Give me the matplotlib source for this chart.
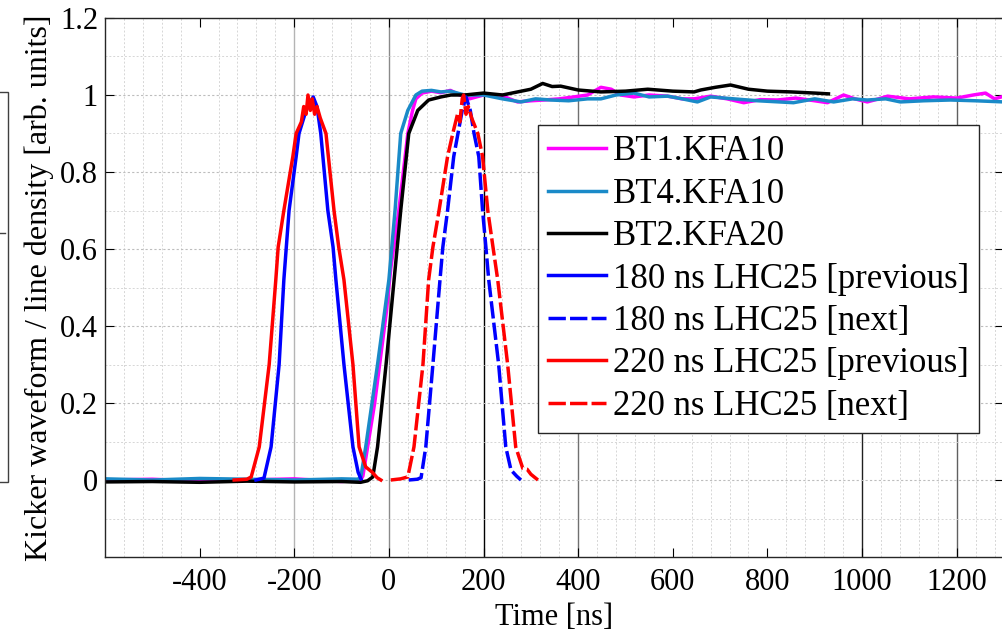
import matplotlib
matplotlib.use('Agg')
import matplotlib.pyplot as plt
from matplotlib.ticker import MultipleLocator, FuncFormatter, FixedLocator
from matplotlib.patches import Rectangle
from matplotlib.lines import Line2D

plt.rcParams['font.family'] = ['Liberation Serif', 'DejaVu Serif']
plt.rcParams['axes.unicode_minus'] = False

# ---------------- data ----------------
t_bt1 = [-600, -500, -400, -300, -200, -100, -60, -55, -45, -30, -6, 4, 21, 40, 50, 57, 70, 90, 110, 130,
         150, 170, 200, 237, 255, 272, 300, 327, 360, 391, 420, 448, 470, 490, 518, 550, 589, 620, 645, 680,
         715, 750, 785, 821, 860, 900, 927, 961, 985, 1011, 1035, 1054, 1100, 1151, 1200, 1235, 1261, 1280, 1300]
v_bt1 = [0.0, 0.002, -0.003, 0.0, 0.003, -0.004, 0.0, 0.01, 0.086, 0.2, 0.43, 0.55, 0.70, 0.90, 0.96, 0.99,
         1.005, 1.01, 1.006, 1.012, 1.0, 0.99, 1.0, 1.0, 0.99, 0.982, 0.985, 0.987, 0.99, 0.995, 1.0, 1.02,
         1.015, 1.0, 0.995, 1.0, 0.997, 0.99, 0.99, 0.997, 0.99, 0.98, 0.988, 0.987, 0.992, 0.985, 0.98, 1.0,
         0.99, 0.982, 0.99, 0.997, 0.99, 0.995, 0.992, 1.0, 1.005, 0.99, 0.997]

t_bt4 = [-600, -500, -400, -300, -200, -100, -65, -59, -49, -24, 0, 13, 25, 40, 57, 70, 90, 110, 130, 160,
         200, 240, 279, 310, 342, 380, 420, 448, 480, 518, 550, 589, 620, 652, 680, 729, 780, 855, 900, 940,
         980, 1011, 1050, 1081, 1130, 1187, 1240, 1300]
v_bt4 = [0.003, 0.0, 0.004, 0.002, 0.0, 0.003, 0.002, 0.01, 0.086, 0.30, 0.52, 0.70, 0.90, 0.96, 1.0, 1.01,
         1.012, 1.008, 1.01, 1.0, 1.0, 0.99, 0.982, 0.99, 0.987, 0.985, 0.99, 0.99, 1.0, 1.005, 0.995, 0.997,
         0.99, 0.982, 0.995, 0.99, 0.985, 0.98, 0.99, 0.982, 0.99, 0.987, 0.99, 0.982, 0.985, 0.987, 0.985, 0.982]

t_bt2 = [-600, -500, -400, -300, -200, -100, -60, -45, -34, -24, -6, 11, 25, 42, 61, 84, 110, 131, 160, 200,
         240, 280, 300, 325, 345, 363, 400, 448, 500, 547, 600, 645, 659, 690, 722, 760, 800, 850, 900, 929]
v_bt2 = [-0.005, -0.004, -0.006, -0.003, -0.005, -0.004, -0.006, -0.002, 0.008, 0.086, 0.30, 0.52, 0.70, 0.90,
         0.96, 0.987, 0.995, 1.0, 1.0, 1.005, 1.0, 1.01, 1.015, 1.03, 1.022, 1.023, 1.013, 1.008, 1.01, 1.015,
         1.01, 1.008, 1.013, 1.02, 1.026, 1.015, 1.01, 1.008, 1.005, 1.003]

t_180p = [-281, -264, -249, -232, -222, -211, -196, -190, -175, -160, -152, -144, -129, -118, -112, -95, -76, -65, -59]
v_180p = [0.0, 0.005, 0.086, 0.30, 0.52, 0.70, 0.84, 0.90, 0.96, 0.995, 0.97, 0.90, 0.70, 0.605, 0.52, 0.30, 0.086, 0.02, 0.003]

t_180n = [42, 60, 68, 78, 93, 108, 114, 124, 137, 146, 155, 163, 172, 180, 190, 198, 205, 211, 232, 247, 258, 270, 279]
v_180n = [0.0, 0.002, 0.006, 0.086, 0.30, 0.52, 0.605, 0.70, 0.84, 0.90, 0.96, 0.995, 0.96, 0.90, 0.84, 0.70,
          0.605, 0.52, 0.30, 0.086, 0.026, 0.01, 0.0]

t_220p = [-327, -300, -291, -274, -253, -239, -234, -222, -203, -196, -185, -180, -175, -171, -166, -162, -157,
          -152, -145, -133, -116, -106, -95, -76, -63, -49, -35, -25, -17]
v_220p = [0.0, 0.002, 0.008, 0.086, 0.30, 0.52, 0.605, 0.70, 0.84, 0.90, 0.93, 0.97, 0.95, 1.0, 0.96, 0.99, 0.95,
          0.97, 0.94, 0.90, 0.70, 0.605, 0.52, 0.30, 0.086, 0.034, 0.02, 0.006, 0.0]

t_220n = [4, 25, 40, 53, 72, 84, 93, 106, 124, 135, 145, 150, 155, 158, 163, 168, 175, 188, 198, 209, 220, 230,
          251, 268, 283, 292, 300, 315]
v_220n = [0.0, 0.003, 0.008, 0.086, 0.30, 0.52, 0.605, 0.70, 0.84, 0.90, 0.95, 0.93, 0.99, 1.0, 0.95, 0.97, 0.94,
          0.90, 0.84, 0.70, 0.605, 0.52, 0.30, 0.086, 0.03, 0.028, 0.015, 0.0]

labels = ['BT1.KFA10', 'BT4.KFA10', 'BT2.KFA20', '180 ns LHC25 [previous]', '180 ns LHC25 [next]',
          '220 ns LHC25 [previous]', '220 ns LHC25 [next]']

x_ticks = [-400, -200, 0, 200, 400, 600, 800, 1000, 1200]
y_ticks = [0, 0.2, 0.4, 0.6, 0.8, 1.0, 1.2]

# ---------------- figure ----------------
W, H = 1002, 634
fig = plt.figure(figsize=(W / 100, H / 100), dpi=100)
ax = fig.add_axes([105 / W, 77 / H, 899 / W, 539 / H])
ax.set_xlim(-600, 1300)
ax.set_ylim(-0.2, 1.2)

ax.xaxis.set_major_locator(FixedLocator(x_ticks))
ax.yaxis.set_major_locator(FixedLocator(y_ticks))
ax.xaxis.set_minor_locator(MultipleLocator(40))
ax.yaxis.set_minor_locator(MultipleLocator(0.1))
ax.yaxis.set_major_formatter(FuncFormatter(lambda v, p: '%g' % v))
ax.xaxis.set_major_formatter(FuncFormatter(lambda v, p: '%g' % v))

ax.grid(which='minor', linestyle=(0, (2, 2)), color='#d6d6d6', linewidth=0.7)
ax.grid(which='major', axis='y', linestyle=(0, (2, 2)), color='#bdbdbd', linewidth=0.8)
ax.set_axisbelow(True)
# darker major vertical grid lines as rendered in the original
for xv, c in [(-200, '#b4b4b4'), (0, '#8a8a8a'), (200, '#000000'), (400, '#707070'),
              (1000, '#202020'), (1200, '#606060')]:
    ax.axvline(xv, color=c, linewidth=1.0, zorder=0.5)

ax.tick_params(which='major', direction='in', length=6.5, width=0.8, top=True, right=True,
               labelsize=22, colors='#000000')
ax.tick_params(which='minor', length=0)
ax.tick_params(axis='x', pad=8)
ax.tick_params(axis='y', pad=5)
for s in ax.spines.values():
    s.set_color('#262626')
    s.set_linewidth(1.0)

lw = 2.5
ax.plot(t_bt1, v_bt1, color='#ff00ff', lw=lw, label=labels[0])
ax.plot(t_bt4, v_bt4, color='#1a8ac8', lw=lw, label=labels[1])
ax.plot(t_bt2, v_bt2, color='#000000', lw=lw, label=labels[2])
ax.plot(t_180p, v_180p, color='#0000ff', lw=lw, label=labels[3])
ax.plot(t_180n, v_180n, color='#0000ff', lw=lw, dashes=(5, 1.2), label=labels[4])
ax.plot(t_220p, v_220p, color='#ff0000', lw=lw, label=labels[5])
ax.plot(t_220n, v_220n, color='#ff0000', lw=lw, dashes=(5, 1.2), label=labels[6])

ax.set_xlabel('Time [ns]', fontsize=22, labelpad=4)
ax.set_ylabel('Kicker waveform / line density [arb. units]', fontsize=23, labelpad=4)

leg = ax.legend(loc='upper left', bbox_to_anchor=(538 / W, 1 - 125 / H), bbox_transform=fig.transFigure,
                fontsize=25, frameon=True, fancybox=False, shadow=False, framealpha=1,
                edgecolor='#262626', handlelength=1.65, handletextpad=0.2, labelspacing=0.27,
                borderpad=0.3, borderaxespad=0)
leg.get_frame().set_linewidth(1.0)

# remnant of neighbouring panel at the left edge
fig.add_artist(Rectangle((-20 / W, 1 - 482 / H), 28 / W, 390 / H, transform=fig.transFigure,
                         fill=False, edgecolor='#404040', linewidth=1.0))
fig.add_artist(Line2D([0, 5 / W], [1 - 233 / H, 1 - 233 / H], transform=fig.transFigure,
                      color='#404040', linewidth=1.0))

fig.savefig('out.png', dpi=100)
